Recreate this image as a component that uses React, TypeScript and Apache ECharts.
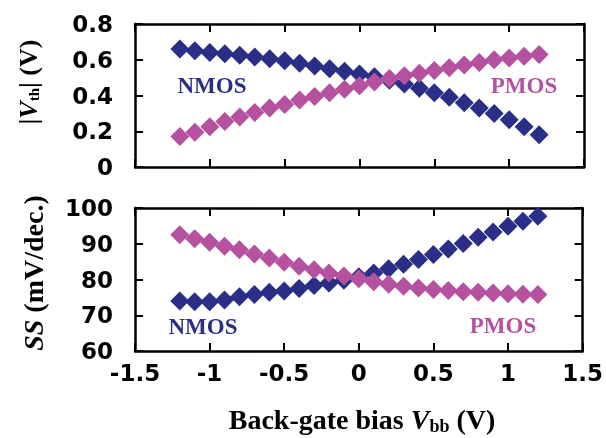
import React, { useEffect, useRef } from "react";
import * as echarts from "echarts";

const biasV = [-1.2, -1.1, -1.0, -0.9, -0.8, -0.7, -0.6, -0.5, -0.4, -0.3, -0.2, -0.1, 0, 0.1, 0.2, 0.3, 0.4, 0.5, 0.6, 0.7, 0.8, 0.9, 1.0, 1.1, 1.2];
const nmosVth = [0.66, 0.65, 0.64, 0.633, 0.625, 0.615, 0.605, 0.595, 0.58, 0.565, 0.55, 0.535, 0.52, 0.505, 0.485, 0.465, 0.44, 0.415, 0.39, 0.36, 0.33, 0.3, 0.265, 0.225, 0.18];
const pmosVth = [0.17, 0.195, 0.225, 0.255, 0.28, 0.305, 0.33, 0.35, 0.375, 0.395, 0.415, 0.435, 0.455, 0.475, 0.495, 0.51, 0.525, 0.54, 0.555, 0.57, 0.585, 0.6, 0.61, 0.62, 0.63];
const nmosSS = [74, 73.8, 73.8, 74.3, 75.2, 75.8, 76.4, 76.8, 77.5, 78.3, 79, 79.8, 80.8, 81.8, 83, 84.3, 85.6, 87, 88.5, 90.1, 91.8, 93.3, 94.9, 96.3, 97.7];
const pmosSS = [92.5, 91.4, 90.4, 89.3, 88.3, 87.1, 86, 84.8, 83.7, 82.7, 81.8, 81, 80.2, 79.4, 78.7, 78.1, 77.6, 77.2, 76.9, 76.6, 76.4, 76.2, 76, 75.9, 75.8];
const labelNMOS = "NMOS";
const labelPMOS = "PMOS";

const NCOL = "#2B2E86";
const PCOL = "#B5519F";

export default function App() {
  const ref = useRef<HTMLDivElement>(null);
  useEffect(() => {
    if (!ref.current) return;
    const chart = echarts.init(ref.current, null, { renderer: "svg" });
    const lineStyle = { color: "#000", width: 2.5 };
    const axisLine = { show: true, onZero: false, lineStyle };
    const tick = { show: true, inside: true, length: 8, lineStyle: { color: "#000", width: 2 } };
    const tickLabel = { fontFamily: "DejaVu Sans", fontWeight: "bold" as const, fontSize: 23, color: "#000" };
    const xBase = { type: "value" as const, min: -1.5, max: 1.5, interval: 0.5, axisLine, axisTick: tick, splitLine: { show: false } };
    const mk = (xv: number[], yv: number[]) => xv.map((x, i) => [x, yv[i]]);
    const serifBold = { fontFamily: "Liberation Serif", fontWeight: "bold" as const };
    const sc = (xi: number, yi: number, color: string, data: number[][]) => ({
      type: "scatter", xAxisIndex: xi, yAxisIndex: yi, symbol: "diamond", symbolSize: 19,
      itemStyle: { color, opacity: 1 }, data,
    });
    chart.setOption({
      animation: false,
      grid: [
        { left: 135, top: 24, width: 449, height: 143 },
        { left: 135, top: 208, width: 449, height: 143 },
      ],
      xAxis: [
        { ...xBase, gridIndex: 0, position: "bottom", axisLabel: { show: false } },
        { ...xBase, gridIndex: 0, position: "top", axisLabel: { show: false } },
        { ...xBase, gridIndex: 1, position: "bottom", axisLabel: { ...tickLabel, margin: 10 } },
        { ...xBase, gridIndex: 1, position: "top", axisLabel: { show: false } },
      ],
      yAxis: [
        { type: "value", gridIndex: 0, min: 0, max: 0.8, interval: 0.2, position: "left", axisLine, axisTick: tick, splitLine: { show: false }, axisLabel: { ...tickLabel, margin: 22, formatter: (v: number) => (v === 0 ? "0" : String(Math.round(v * 10) / 10)) } },
        { type: "value", gridIndex: 0, min: 0, max: 0.8, interval: 0.2, position: "right", axisLine, axisTick: tick, splitLine: { show: false }, axisLabel: { show: false } },
        { type: "value", gridIndex: 1, min: 60, max: 100, interval: 10, position: "left", axisLine, axisTick: tick, splitLine: { show: false }, axisLabel: { ...tickLabel, margin: 22 } },
        { type: "value", gridIndex: 1, min: 60, max: 100, interval: 10, position: "right", axisLine, axisTick: tick, splitLine: { show: false }, axisLabel: { show: false } },
      ],
      series: [
        sc(0, 0, NCOL, mk(biasV, nmosVth)),
        sc(0, 0, PCOL, mk(biasV, pmosVth)),
        sc(2, 2, NCOL, mk(biasV, nmosSS)),
        sc(2, 2, PCOL, mk(biasV, pmosSS)),
      ],
      graphic: [
        { type: "text", x: 212, y: 85, style: { text: labelNMOS, ...serifBold, fontSize: 23, fill: NCOL, textAlign: "center", textVerticalAlign: "middle" } },
        { type: "text", x: 524, y: 85, style: { text: labelPMOS, ...serifBold, fontSize: 23, fill: PCOL, textAlign: "center", textVerticalAlign: "middle" } },
        { type: "text", x: 203, y: 326, style: { text: labelNMOS, ...serifBold, fontSize: 23, fill: NCOL, textAlign: "center", textVerticalAlign: "middle" } },
        { type: "text", x: 503, y: 325, style: { text: labelPMOS, ...serifBold, fontSize: 23, fill: PCOL, textAlign: "center", textVerticalAlign: "middle" } },
        {
          type: "text", x: 28, y: 82, rotation: Math.PI / 2,
          style: {
            text: "{i||V}{s|th}{n|| (V)}", textAlign: "center", textVerticalAlign: "middle", fill: "#000",
            rich: {
              i: { ...serifBold, fontStyle: "italic", fontSize: 26, fill: "#000" },
              s: { ...serifBold, fontSize: 15, fill: "#000", verticalAlign: "bottom", padding: [12, 0, 0, 0] },
              n: { ...serifBold, fontSize: 26, fill: "#000" },
            },
          },
        },
        {
          type: "text", x: 33, y: 273, rotation: Math.PI / 2,
          style: {
            text: "{i|SS}{n| (mV/dec.)}", textAlign: "center", textVerticalAlign: "middle", fill: "#000",
            rich: {
              i: { ...serifBold, fontStyle: "italic", fontSize: 28, fill: "#000" },
              n: { ...serifBold, fontSize: 28, fill: "#000" },
            },
          },
        },
        {
          type: "text", x: 362, y: 419,
          style: {
            text: "{n|Back-gate bias }{i|V}{s|bb}{n| (V)}", textAlign: "center", textVerticalAlign: "middle", fill: "#000",
            rich: {
              n: { ...serifBold, fontSize: 28, fill: "#000" },
              i: { ...serifBold, fontStyle: "italic", fontSize: 28, fill: "#000" },
              s: { ...serifBold, fontSize: 18, fill: "#000", verticalAlign: "bottom", padding: [14, 0, 0, 0] },
            },
          },
        },
      ],
    });
    return () => chart.dispose();
  }, []);
  return <div ref={ref} style={{ position: "fixed", left: 0, top: 0, width: 606, height: 438 }} />;
}
